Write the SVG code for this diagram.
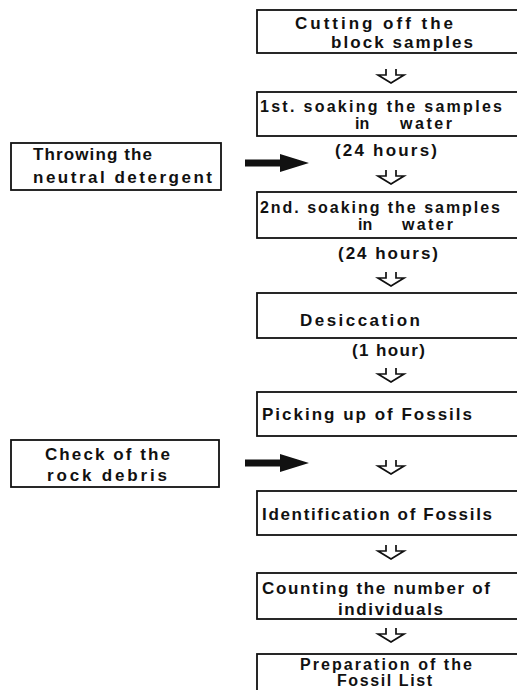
<svg xmlns="http://www.w3.org/2000/svg" width="517" height="690" viewBox="0 0 517 690">
<defs>
<style>
.box{fill:none;stroke:#111;stroke-width:1.8}
.t{font-family:"Liberation Sans",Arial,sans-serif;font-weight:bold;font-size:17px;fill:#111}
.s{font-size:16px}
.ha{fill:none;stroke:#111;stroke-width:1.7;stroke-linejoin:miter}
.fa{fill:#111;stroke:none}
</style>
<path id="hol" class="ha" d="M-5,0 V6 H-13 L0,14 L13,6 H5 V0"/>
<path id="fil" class="fa" d="M0,-3.5 H35 V-9 L64,0 L35,9 V3.5 H0 Z"/>
</defs>
<g id="n1"><rect class="box" x="257" y="10" width="280" height="43"/>
<text class="t" x="295" y="29" textLength="158" lengthAdjust="spacing">Cutting off the</text>
<text class="t" x="331" y="48" textLength="142" lengthAdjust="spacing">block samples</text></g>
<g id="n2"><rect class="box" x="257" y="92" width="280" height="44"/>
<text class="t s" x="260" y="112" textLength="242" lengthAdjust="spacing">1st. soaking the samples</text>
<text class="t s" x="355" y="129">in</text><text class="t s" x="400" y="129" textLength="52" lengthAdjust="spacing">water</text></g>
<g id="l1"><text class="t" x="335" y="156" textLength="102" lengthAdjust="spacing">(24 hours)</text></g>
<g id="n3"><rect class="box" x="257" y="192" width="280" height="46"/>
<text class="t s" x="260" y="213" textLength="240" lengthAdjust="spacing">2nd. soaking the samples</text>
<text class="t s" x="358" y="230">in</text><text class="t s" x="402" y="230" textLength="51" lengthAdjust="spacing">water</text></g>
<g id="l2"><text class="t" x="338" y="259" textLength="100" lengthAdjust="spacing">(24 hours)</text></g>
<g id="n4"><rect class="box" x="257" y="293" width="280" height="45"/>
<text class="t" x="300" y="326" textLength="120" lengthAdjust="spacing">Desiccation</text></g>
<g id="l3"><text class="t" x="352" y="356" textLength="73" lengthAdjust="spacing">(1 hour)</text></g>
<g id="n5"><rect class="box" x="257" y="392" width="280" height="44"/>
<text class="t" x="262" y="420" textLength="210" lengthAdjust="spacing">Picking up of Fossils</text></g>
<g id="n6"><rect class="box" x="257" y="491" width="280" height="44"/>
<text class="t" x="262" y="520" textLength="230" lengthAdjust="spacing">Identification of Fossils</text></g>
<g id="n7"><rect class="box" x="257" y="573" width="280" height="46"/>
<text class="t" x="262" y="594" textLength="228" lengthAdjust="spacing">Counting the number of</text>
<text class="t" x="338" y="615" textLength="105" lengthAdjust="spacing">individuals</text></g>
<g id="n8"><rect class="box" x="257" y="654" width="280" height="60"/>
<text class="t s" x="300" y="670" textLength="172" lengthAdjust="spacing">Preparation of the</text>
<text class="t s" x="337" y="686" textLength="95" lengthAdjust="spacing">Fossil List</text></g>
<g id="s1"><rect class="box" x="11" y="143" width="210" height="47"/>
<text class="t" x="33" y="160" textLength="119" lengthAdjust="spacing">Throwing the</text>
<text class="t" x="33" y="183" textLength="179" lengthAdjust="spacing">neutral detergent</text></g>
<g id="s2"><rect class="box" x="11" y="440" width="208" height="47"/>
<text class="t" x="45" y="460" textLength="125" lengthAdjust="spacing">Check of the</text>
<text class="t" x="47" y="481" textLength="120" lengthAdjust="spacing">rock debris</text></g>
<g id="connectors">
<use href="#hol" x="391" y="69"/>
<use href="#hol" x="391" y="170"/>
<use href="#hol" x="391" y="272"/>
<use href="#hol" x="391" y="368"/>
<use href="#hol" x="391" y="460"/>
<use href="#hol" x="391" y="545"/>
<use href="#hol" x="391" y="628"/>
<use href="#fil" x="245" y="163"/>
<use href="#fil" x="245" y="463"/>
</g>
</svg>
